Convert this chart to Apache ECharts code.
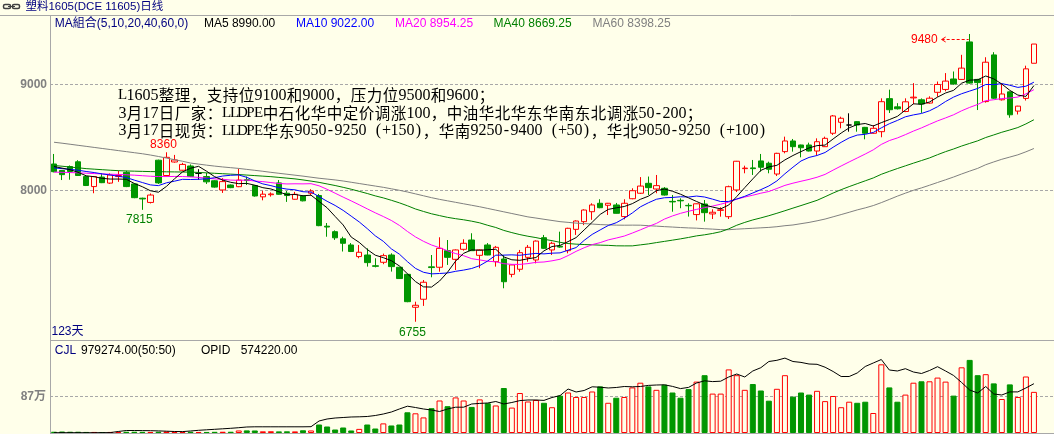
<!DOCTYPE html>
<html><head><meta charset="utf-8">
<script src="https://cdn.jsdelivr.net/npm/echarts@6/dist/echarts.min.js"></script>
<style>html,body{margin:0;padding:0;background:#FFFFEA;overflow:hidden}#c{width:1054px;height:434px}</style>
</head><body><div id="c"></div>
<script>
const opens = [8249,8188,8225,8270,8130,8035,8125,8068,8130,8170,
 8060,7925,7885,8285,8140,8268,8190,8230,8160,8130,
 8090,8003,8050,8034,8100,8045,7938,7958,8070,7972,
 7915,7946,7972,7950,7660,7608,7540,7482,7372,7387,
 7285,7318,7387,7271,7204,6892,6968,7275,7271,7428,
 7346,7441,7529,7384,7482,7324,7349,7204,7252,7365,
 7340,7551,7435,7470,7428,7630,7703,7797,7877,7858,
 7861,7751,7920,7972,8066,8012,8019,7895,7905,7857,
 7770,7870,7776,7810,7750,8003,8205,8212,8278,8256,
 8154,8366,8467,8429,8429,8372,8413,8540,8644,8618,
 8650,8596,8540,8555,8868,8790,8746,8875,8857,8826,
 8928,8955,9054,9050,9405,9050,8840,9282,8857,8932,
 8750,8870,9203];
const closes = [8176,8148,8178,8140,8045,8130,8072,8145,8140,8035,
 7930,7918,7955,8070,8312,8287,8245,8130,8160,8080,
 8030,8082,8025,8097,8092,7946,7963,7965,7962,7950,
 7962,7900,7993,7665,7652,7550,7498,7420,7413,7315,
 7280,7381,7277,7164,6945,6911,7129,7268,7450,7365,
 7435,7498,7428,7435,7387,7460,7134,7293,7409,7460,
 7519,7450,7498,7462,7640,7709,7813,7861,7835,7877,
 7782,7877,7996,8040,8025,8044,7955,7890,7900,7853,
 7872,7788,7792,7815,8034,8275,8210,8205,8218,8199,
 8350,8467,8413,8403,8372,8460,8492,8704,8682,8618,
 8618,8540,8587,8839,8763,8772,8838,8882,8817,8872,
 9002,9034,9007,9157,9015,9020,9213,8872,8912,8715,
 8797,9150,9385];
const lows = [8170,8097,8100,8135,8040,7972,8068,8060,8080,8030,
 7925,7815,7875,8060,8130,8262,8185,8125,8100,8060,
 8025,7975,8020,8030,8050,7940,7905,7940,7958,7890,
 7912,7895,7955,7660,7560,7530,7420,7415,7356,7277,
 7270,7300,7230,7160,6940,6755,6905,7176,7229,7293,
 7245,7428,7425,7262,7385,7277,7072,7176,7229,7324,
 7308,7445,7387,7455,7403,7577,7670,7720,7830,7766,
 7780,7725,7915,7965,7955,7972,7950,7797,7830,7751,
 7715,7703,7728,7750,7728,7984,8161,8145,8176,8161,
 8135,8350,8366,8312,8368,8334,8410,8524,8587,8555,
 8555,8483,8535,8502,8732,8765,8740,8815,8733,8820,
 8885,8937,9000,9045,9010,8760,8830,8865,8850,8687,
 8718,8850,9203];
const highs = [8344,8190,8235,8285,8135,8135,8160,8160,8185,8185,
 8065,7930,7970,8290,8360,8335,8260,8245,8200,8165,
 8095,8115,8055,8205,8130,8050,7995,7980,8097,7993,
 7985,7950,8010,7965,7690,7620,7560,7500,7482,7450,
 7356,7400,7403,7275,7210,6945,7150,7387,7555,7529,
 7440,7536,7593,7440,7500,7473,7387,7295,7435,7482,
 7525,7577,7513,7608,7645,7715,7820,7877,7915,7880,
 7880,7915,8019,8125,8130,8145,8030,7955,7924,7877,
 7875,7908,7820,7839,8044,8278,8233,8287,8344,8271,
 8355,8508,8486,8432,8451,8492,8508,8713,8697,8729,
 8655,8600,8618,8871,8953,8825,8871,9015,8870,8890,
 9030,9110,9125,9283,9480,9055,9260,9308,9005,8935,
 8800,9180,9385];
const volumes = [30000,35000,30000,30000,25000,25000,22000,25000,25000,30000,
 30000,28000,25000,30000,35000,30000,28000,30000,25000,25000,
 28000,30000,30000,60000,62000,60000,40000,42000,38000,40000,
 38000,65000,60000,202000,155000,83000,131000,60000,98000,202000,
 107000,229000,179000,202000,493000,469000,371000,590000,774000,638000,
 847000,774000,621000,800000,709000,655000,1071000,605000,952000,750000,
 786000,719000,614000,890000,964000,857000,857000,988000,1109000,719000,
 840000,857000,1085000,1197000,1109000,1028000,1150000,964000,840000,1045000,
 1223000,1376000,938000,938000,1514000,1376000,1028000,1166000,1012000,769000,
 1052000,1376000,866000,964000,914000,1004000,759000,881000,614000,745000,
 719000,745000,476000,1635000,1085000,745000,914000,1197000,1231000,1231000,
 1319000,1223000,890000,1564000,1740000,1376000,1400000,1181000,809000,1157000,
 857000,1345000,979274];
const opid = [3500,3500,3500,3500,3500,3500,4700,4700,17500,29100,
 29100,28000,26800,24500,21000,17500,16300,23300,31400,37300,
 43100,48900,54700,61700,69900,72200,72200,72200,72200,72200,
 72200,72200,73400,139800,163100,174700,180500,186400,188700,192200,
 203800,221300,244600,279600,312200,297000,279600,267900,250400,279600,
 300500,300500,337800,344800,349400,366900,337800,355300,377400,384400,
 384400,379700,413500,435600,512500,477600,495000,538100,533500,524200,
 530000,541600,538100,541600,554400,559100,561400,542800,517200,531100,
 582400,608000,598700,603400,652300,687200,652300,722200,760600,832800,
 846800,872400,832800,822300,803700,800200,766400,716400,658100,658100,
 698900,774600,815400,856100,733800,722200,749000,710500,693000,728000,
 772300,722200,669800,588200,500900,465900,541600,454300,442600,478700,
 478700,524200,574220];
// moving-average values before enough closes are on screen
const ma5Head = [8225,8210,8195,8170];
const ma10Head = [8212,8205,8198,8190,8178,8168,8155,8145,8133];
const ma20Head = [8172,8170,8168,8165,8162,8158,8155,8152,8150,8147,8143,8138,8133,8130,8130,8131,8130,8127,8122];
const ma40Head = [8235,8228,8220,8213,8205,8200,8195,8190,8186,8183,8181,8179,8177,8176,8175,8174,8173,8172,8169,8165,
 8161,8157,8153,8149,8144,8139,8134,8129,8122,8115,8108,8098,8087,8075,8060,8045,8028,8010,7990];
const ma60Head = [8455,8446,8436,8426,8416,8406,8396,8386,8376,8366,
 8356,8346,8334,8320,8305,8290,8275,8258,8248,8238,
 8229,8221,8214,8207,8198,8189,8180,8170,8161,8152,
 8143,8134,8124,8114,8106,8098,8088,8076,8064,8052,
 8040,8028,8014,8000,7984,7966,7948,7930,7914,7900,
 7886,7872,7858,7844,7828,7812,7796,7780,7764];
const priceTicks = [9000, 8000];
const volTicks = [870000];
const volTickLabels = ['87万'];
const maLegend = ['MA組合(5,10,20,40,60,0)','MA5 8990.00','MA10 9022.00','MA20 8954.25','MA40 8669.25','MA60 8398.25'];
const volLegend = ['CJL','979274.00(50:50)','OPID','574220.00'];
const title = '塑料1605(DCE 11605)日线';
const notes = ['L1605整理，支持位9100和9000，压力位9500和9600；',
 '3月17日厂家：LLDPE中石化华中定价调涨100，中油华北华东华南东北调涨50-200；',
 '3月17日现货：LLDPE华东9050-9250 (+150)，华南9250-9400 (+50)，华北9050-9250 (+100)'];
const dayCount = '123天';

const categories = closes.map((_, i) => 'D' + (i + 1));
const BG = '#FFFFEA', RED = '#FF0000', GREEN = '#009600', GRID = '#A8A8A8';
const LAT = "'Liberation Sans', Arial, 'Noto Sans CJK SC', sans-serif";

function movingAvg(n, head) {
  return closes.map((c, i) => {
    if (i < n - 1) return head[i];
    let s = 0;
    for (let k = i - n + 1; k <= i; k++) s += closes[k];
    return +(s / n).toFixed(2);
  });
}
const kData = opens.map((o, i) => [o, closes[i], lows[i], highs[i]]);
const volData = volumes.map((v, i) => {
  const up = closes[i] >= opens[i];
  return { value: v, itemStyle: up ? { color: BG, borderColor: RED, borderWidth: 1 } : { color: GREEN, borderColor: GREEN, borderWidth: 1 } };
});
const axisCats = categories.concat(['', '']);

const chart = echarts.init(document.getElementById('c'));
function maLine(name, n, head, color) {
  return { name, type: 'line', xAxisIndex: 0, yAxisIndex: 0, data: movingAvg(n, head), showSymbol: false, symbol: 'none',
    silent: true, lineStyle: { width: 1, color }, itemStyle: { color }, z: 4 };
}
const option = {
  backgroundColor: BG,
  animation: false,
  grid: [{ left: 50, right: 0, top: 30, height: 308 }, { left: 50, right: 0, top: 341, height: 92 }],
  xAxis: [
    { type: 'category', gridIndex: 0, data: axisCats, show: false, boundaryGap: true },
    { type: 'category', gridIndex: 1, data: axisCats, show: false, boundaryGap: true }
  ],
  yAxis: [
    { type: 'value', gridIndex: 0, min: 6601, max: 9518, show: false },
    { type: 'value', gridIndex: 1, min: 0, max: 2190000, show: false },
    { type: 'value', gridIndex: 1, min: 0, max: 1071616, show: false }
  ],
  series: [
    { type: 'candlestick', xAxisIndex: 0, yAxisIndex: 0, data: kData, barWidth: 6, silent: true, z: 3,
      itemStyle: { color: BG, color0: GREEN, borderColor: RED, borderColor0: GREEN, borderColorDoji: '#000000', borderWidth: 1 },
      markLine: { silent: true, symbol: ['none', 'none'], animation: false, z: 1,
        lineStyle: { color: GRID, type: [3, 2], width: 1 },
        label: { position: 'start', distance: 3, color: '#808080', fontWeight: 'bold', fontSize: 12, fontFamily: LAT, formatter: '{b}' },
        data: priceTicks.map(v => ({ yAxis: v, name: String(v) })) } },
    maLine('MA60', 60, ma60Head, '#808080'),
    maLine('MA40', 40, ma40Head, '#008000'),
    maLine('MA20', 20, ma20Head, '#FF00FF'),
    maLine('MA10', 10, ma10Head, '#0000FF'),
    maLine('MA5', 5, ma5Head, '#000000'),
    { type: 'bar', xAxisIndex: 1, yAxisIndex: 1, data: volData, barWidth: 6, silent: true,
      markLine: { silent: true, symbol: ['none', 'none'], animation: false, z: 1,
        lineStyle: { color: GRID, type: [3, 2], width: 1 },
        label: { position: 'start', distance: 4, color: '#808080', fontWeight: 'bold', fontSize: 12, fontFamily: LAT, formatter: '{b}' },
        data: volTicks.map((v, i) => ({ yAxis: v, name: volTickLabels[i] })) } },
    { type: 'line', xAxisIndex: 1, yAxisIndex: 2, data: opid, showSymbol: false, symbol: 'none', silent: true,
      lineStyle: { width: 1, color: '#000000' }, z: 4 }
  ]
};
chart.setOption(option);

const px = (i, v) => chart.convertToPixel({ gridIndex: 0 }, [i, v]);
const g = [];
function txt(text, x, y, fill, font, align) {
  g.push({ type: 'text', z: 100, silent: true, style: { text, x, y, fill, font, textAlign: align || 'left', textVerticalAlign: 'middle' } });
}
function ln(x1, y1, x2, y2, stroke, dash) {
  g.push({ type: 'line', z: 90, silent: true, shape: { x1, y1, x2, y2 }, style: { stroke, lineWidth: 1, lineDash: dash || null } });
}
ln(0, 15.5, 1054, 15.5, GRID);
ln(50.5, 15.5, 50.5, 434, GRID);
ln(50.5, 340.5, 1054, 340.5, GRID);
ln(50.5, 433.5, 1054, 433.5, GRID);
// link icon
g.push({ type: 'rect', z: 100, silent: true, shape: { x: 3.5, y: 4.5, width: 7, height: 4, r: 1.5 }, style: { fill: 'none', stroke: '#404040', lineWidth: 1.5 } });
g.push({ type: 'rect', z: 100, silent: true, shape: { x: 12.5, y: 4.5, width: 7, height: 4, r: 1.5 }, style: { fill: 'none', stroke: '#404040', lineWidth: 1.5 } });
ln(8, 6.5, 15, 6.5, '#404040');
txt(title, 25.4, 7, '#000080', "11.5px " + LAT);
const maX = [54.8, 203.9, 296, 395, 493.6, 592.6];
const maC = ['#000080', '#000000', '#0000FF', '#FF00FF', '#008000', '#808080'];
maLegend.forEach((t, i) => txt(t, maX[i], 24, maC[i], "12px " + LAT));
// notes: fixed-pitch layout like the original (half-width 8px, full-width 16px)
const noteY = [95.5, 113.3, 131];
notes.forEach((line, li) => {
  let x = 118.5;
  for (const ch of line) {
    const half = ch.charCodeAt(0) < 128;
    const adv = half ? 8 : 16;
    if (ch !== ' ') {
      const upper = ch >= 'A' && ch <= 'Z';
      txt(ch, x + adv / 2, noteY[li], '#000000',
        half ? ((upper ? '15px' : '16px') + " 'Liberation Serif', serif") : "15.5px 'Noto Sans CJK SC', sans-serif", 'center');
    }
    x += adv;
  }
});
txt(dayCount, 51.5, 331.5, '#000080', "12px " + LAT);
const vlX = [54.8, 81, 201, 240.7];
const vlC = ['#000080', '#000000', '#000000', '#000000'];
volLegend.forEach((t, i) => txt(t, vlX[i], 350.5, vlC[i], "12px " + LAT));
// extreme labels
const pHi14 = px(14, highs[14]);
txt(String(highs[14]), pHi14[0] - 3, pHi14[1] - 8, RED, "12px " + LAT, 'center');
const pLo11 = px(11, lows[11]);
txt(String(lows[11]), pLo11[0] - 3, pLo11[1] + 9.5, '#008000', "12px " + LAT, 'center');
const pLo45 = px(45, lows[45]);
txt(String(lows[45]), pLo45[0] - 3, pLo45[1] + 11, '#008000', "12px " + LAT, 'center');
const pHi = px(114, highs[114]);
txt(String(highs[114]), pHi[0] - 32, pHi[1] + 6, RED, "12px " + LAT, 'right');
ln(pHi[0] - 28, pHi[1] + 5.5, pHi[0] - 1, pHi[1] + 5.5, RED, [3, 2]);
g.push({ type: 'polyline', z: 100, silent: true, shape: { points: [[pHi[0] - 24, pHi[1] + 3], [pHi[0] - 28, pHi[1] + 5.5], [pHi[0] - 24, pHi[1] + 8]] }, style: { fill: 'none', stroke: RED, lineWidth: 1 } });
chart.setOption({ graphic: g });
</script>
</body></html>
